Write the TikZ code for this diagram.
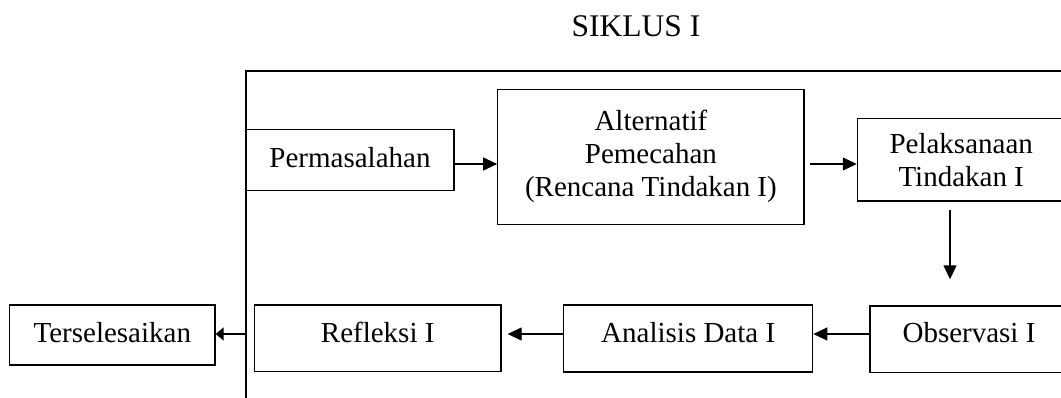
\documentclass[tikz,border=0pt]{standalone}
\usepackage{fontspec}
\setmainfont{Liberation Serif}
\usetikzlibrary{arrows.meta}
\begin{document}
\begin{tikzpicture}[x=1pt,y=-1pt,
  line width=1.2pt,
  txt/.style={font=\fontsize{29}{33}\selectfont},
  boxbase/.style={draw, inner sep=0pt, txt},
  onebox/.style={boxbase, text height=20pt, text depth=4.8pt},
  lowbox/.style={boxbase, text height=20pt, text depth=12.8pt},
  multibox/.style={boxbase, align=center},
  arr/.style={-{Triangle[length=14pt,width=13pt]}},
  arrs/.style={-{Triangle[length=8pt,width=13pt]}}]
\useasboundingbox (0,0) rectangle (1061,398);
\clip (0,0) rectangle (1061,398);
% title
\node[font=\fontsize{31.5}{36}\selectfont, inner sep=0pt] (title) at (636,26) {SIKLUS I};
% frame
\coordinate (ftr) at (1075,71);
\coordinate (ftl) at (246,71);
\coordinate (fbl) at (246,405);
\draw (ftr) -- (ftl) -- (fbl);
% boxes
\node[onebox, minimum width=208pt, minimum height=61.4pt] (perm) at (350,160) {Permasalahan};
\node[multibox, minimum width=306.3pt, minimum height=135pt] (alt) at (650.9,156.8) {Alternatif\\Pemecahan\\(Rencana Tindakan I)};
\node[multibox, minimum width=207.7pt, minimum height=82.7pt] (pel) at (961.2,159.7) {Pelaksanaan\\Tindakan I};
\node[lowbox, minimum width=198pt, minimum height=66.3pt] (obs) at (969,339.2) {Observasi I};
\node[lowbox, minimum width=249pt, minimum height=67pt] (ana) at (688.2,338.5) {Analisis Data I};
\node[lowbox, minimum width=246.7pt, minimum height=66.7pt] (ref) at (377.7,338.4) {Refleksi I};
\node[onebox, minimum width=205.5pt, minimum height=60pt] (ter) at (112.3,335) {Terselesaikan};
% connectors
\coordinate (r1) at (0,164);
\coordinate (r2) at (0,334);
\draw[arr] (perm.east |- r1) -- (alt.west |- r1);
\draw[arr] ([xshift=5pt]alt.east |- r1) -- (pel.west |- r1);
\coordinate (d1) at (950,210);
\coordinate (d2) at (950,279.3);
\draw[arr] (d1) -- (d2);
\draw[arr] (obs.west |- r2) -- (ana.east |- r2);
\draw[arr] (ana.west |- r2) -- ([xshift=6pt]ref.east |- r2);
\draw[arrs] (ftl |- r2) -- (ter.east |- r2);
\end{tikzpicture}
\end{document}
